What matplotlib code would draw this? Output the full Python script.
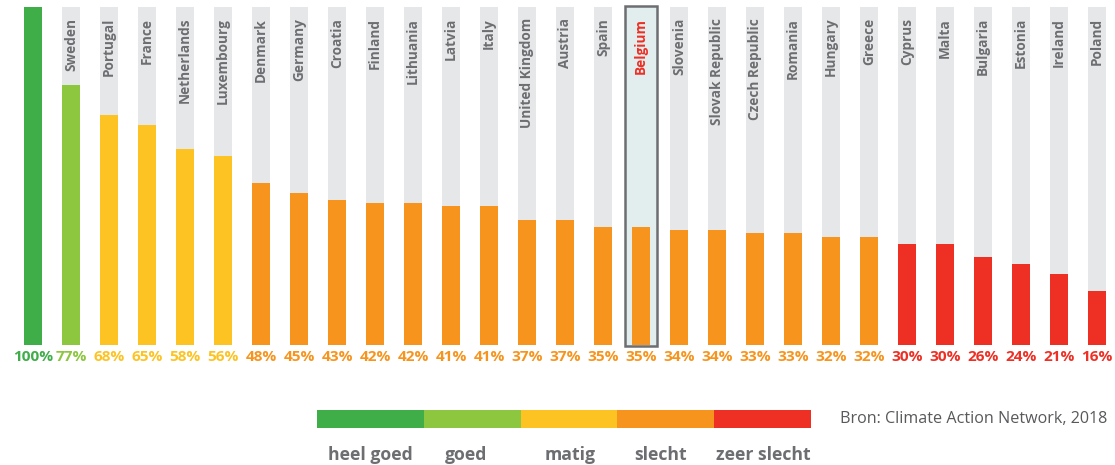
import matplotlib
matplotlib.use("Agg")
import matplotlib.pyplot as plt
from matplotlib.patches import Rectangle

countries = ["", "Sweden", "Portugal", "France", "Netherlands", "Luxembourg", "Denmark",
             "Germany", "Croatia", "Finland", "Lithuania", "Latvia", "Italy",
             "United Kingdom", "Austria", "Spain", "Belgium", "Slovenia",
             "Slovak Republic", "Czech Republic", "Romania", "Hungary", "Greece",
             "Cyprus", "Malta", "Bulgaria", "Estonia", "Ireland", "Poland"]
values = [100, 77, 68, 65, 58, 56, 48, 45, 43, 42, 42, 41, 41, 37, 37, 35, 35,
          34, 34, 33, 33, 32, 32, 30, 30, 26, 24, 21, 16]
ratings = ["heel goed", "goed"] + ["matig"] * 4 + ["slecht"] * 17 + ["zeer slecht"] * 6
legend_labels = ["heel goed", "goed", "matig", "slecht", "zeer slecht"]
legend_colors = ["#3fae49", "#8dc63f", "#fdc323", "#f7941d", "#ee2f24"]
highlight = "Belgium"
source = "Bron: Climate Action Network, 2018"

cmap = dict(zip(legend_labels, legend_colors))
GRAY_BG = "#e6e7e8"
TXT = "#6d6e71"
W, H = 1115, 465
fig = plt.figure(figsize=(W / 100, H / 100), dpi=100)
ax = fig.add_axes([0, 0, 1, 1])
ax.set_axis_off()

px = 38.0
x0 = 33.0
ax.set_xlim(-x0 / px, (W - x0) / px)
ypx = 338.0 / 100  # px per unit
base = 345.0
ax.set_ylim(-(H - base) / ypx, base / ypx)

xs = list(range(len(values)))
hi = countries.index(highlight)
# highlight box
ax.add_patch(Rectangle((hi - 0.41, -0.3), 0.82, 100.6, facecolor="#e2eeee",
                       edgecolor="#6d6e71", linewidth=1.8, zorder=1))
ax.bar([x for x in xs if x != hi], [100] * (len(xs) - 1), width=0.45,
       color=GRAY_BG, zorder=2)
ax.bar(xs, values, width=0.45, color=[cmap[r] for r in ratings], zorder=3)

for x, c, v, r in zip(xs, countries, values, ratings):
    if c:
        ax.text(x, 96.8, c, rotation=90, ha="center", va="top", fontsize=9.8,
                fontweight="bold", color="#ee2f24" if c == highlight else TXT,
                family="Open Sans", zorder=4)
    ax.text(x, -3.6, f"{v}%", ha="center", va="center", fontsize=11.1,
            fontweight="bold", color=cmap[r], family="Open Sans", zorder=4)

# legend bar
bounds = [317, 424, 521, 617, 714, 811]
for i, (lab, col) in enumerate(zip(legend_labels, legend_colors)):
    fig.patches.append(Rectangle((bounds[i] / W, (H - 428) / H),
                                 (bounds[i + 1] - bounds[i]) / W, 18 / H,
                                 facecolor=col, edgecolor="none",
                                 transform=fig.transFigure, figure=fig))
label_x = [370, 466, 570, 661, 763]
for lx, lab in zip(label_x, legend_labels):
    fig.text(lx / W, (H - 455) / H, lab, ha="center", va="center", fontsize=12.7,
             fontweight="bold", color=TXT, family="Open Sans")
fig.text(840 / W, (H - 419) / H, source, ha="left", va="center", fontsize=11.6,
         color="#58595b", family="Open Sans")

fig.savefig("out.png", dpi=100)
